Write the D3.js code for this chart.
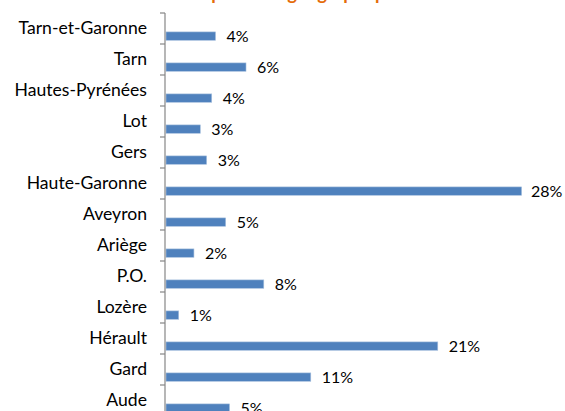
<!DOCTYPE html>
<html>
<head>
<meta charset="utf-8">
<script src="https://cdn.jsdelivr.net/npm/d3@7"></script>
<style>
    body { margin: 0; background: #fff; }
    svg { display: block; font-family: Lato, 'Open Sans', sans-serif; }
    .cat-axis text { fill: #000; }
    .value-label { fill: #000; }
</style>
</head>
<body>
<div id="chart"></div>
<script>
// departments, top to bottom
const departements = [
    'Tarn-et-Garonne', 'Tarn', 'Hautes-Pyrénées', 'Lot', 'Gers', 'Haute-Garonne',
    'Aveyron', 'Ariège', 'P.O.', 'Lozère', 'Hérault', 'Gard', 'Aude',
];
// share of total, in percent
const parts = [3.9, 6.3, 3.6, 2.7, 3.2, 28.0, 4.7, 2.2, 7.7, 1.0, 21.4, 11.4, 5.0];
const titre = 'Répartition géographique';

const width = 565;
const height = 411;
const margin = { top: 13, left: 165 };
const fontSize = 17.6;

const svg = d3.select('#chart')
    .append('svg')
    .attr('width', width)
    .attr('height', height);

// title is mostly cut off at the top in the original
svg.append('text')
    .attr('x', 190)
    .attr('y', 0)
    .attr('fill', '#e46c0a')
    .attr('font-weight', 'bold')
    .attr('font-size', 18.5)
    .text(titre);

const y = d3.scaleBand()
    .domain(departements)
    .range([margin.top, margin.top + 31 * departements.length]);

const x = d3.scaleLinear()
    .domain([0, 30])
    .range([margin.left + 1, 547]);

const data = departements.map((d, i) => ({ name: d, value: parts[i] }));
const bw = y.bandwidth();

// bars
svg.append('g')
    .selectAll('rect')
    .data(data)
    .join('rect')
    .attr('x', x(0))
    .attr('y', (d) => y(d.name) + bw * 0.61)
    .attr('width', (d) => x(d.value) - x(0))
    .attr('height', bw * 0.27)
    .attr('fill', '#4f81bd')
    .attr('stroke', '#a7c0de')
    .attr('stroke-width', 0.6);

// value labels
const fmt = d3.format('.0%');
svg.append('g')
    .selectAll('text')
    .data(data)
    .join('text')
    .attr('class', 'value-label')
    .attr('x', (d) => Math.min(x(d.value) + 11, width - 34))
    .attr('y', (d) => y(d.name) + bw * 0.745)
    .attr('dy', '0.36em')
    .attr('font-size', 16)
    .text((d) => fmt(d.value / 100));

// category labels
const catAxis = svg.append('g')
    .attr('class', 'cat-axis')
    .attr('transform', `translate(${margin.left},0)`)
    .call(d3.axisLeft(y).tickSize(0).tickPadding(18));
catAxis.select('.domain').remove();
catAxis.selectAll('text').attr('font-size', fontSize).attr('font-family', 'Lato, sans-serif');

// axis line with ticks between categories
const bounds = departements.map((d) => y(d)).concat([y.range()[1]]);
svg.append('line')
    .attr('x1', margin.left).attr('x2', margin.left)
    .attr('y1', margin.top).attr('y2', y.range()[1])
    .attr('stroke', '#868686').attr('stroke-width', 1.2);
svg.append('g')
    .selectAll('line')
    .data(bounds)
    .join('line')
    .attr('x1', margin.left - 5).attr('x2', margin.left)
    .attr('y1', (d) => d).attr('y2', (d) => d)
    .attr('stroke', '#868686').attr('stroke-width', 1.2);
</script>
</body>
</html>
